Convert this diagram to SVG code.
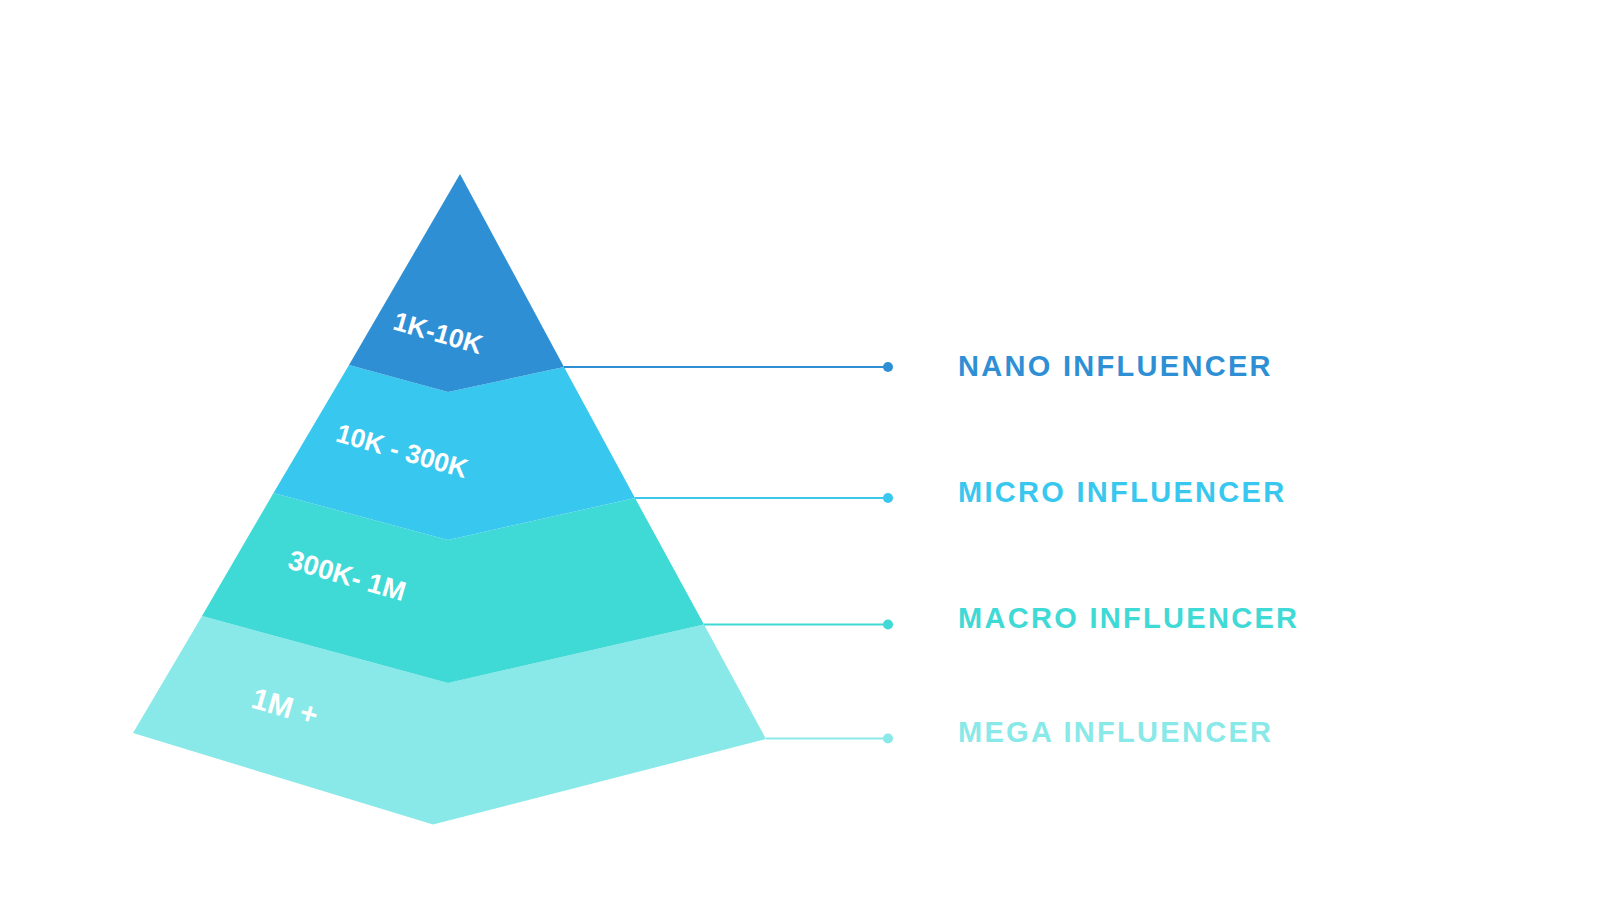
<svg xmlns="http://www.w3.org/2000/svg" width="1600" height="900" viewBox="0 0 1600 900">
<style>
.lbl{font-family:"Liberation Sans",Arial,sans-serif;font-weight:bold;font-size:26.5px;fill:#ffffff;text-anchor:middle}
.name{font-family:"Liberation Sans",Arial,sans-serif;font-weight:bold;font-size:29px;letter-spacing:2.3px}
.conn{stroke-width:2;fill:none}
</style>
<rect width="1600" height="900" fill="#ffffff"/>
<g id="tier-mega">
<polygon points="202,616 448,683 704,624.5 766,739 433,824.5 133,733" fill="#89E9E8"/>
<text class="lbl" transform="translate(285,707) rotate(16)" y="10" style="font-size:30px">1M +</text>
</g>
<g id="tier-macro">
<polygon points="273.5,493 448,540 635,498 704,624.5 448,683 202,616" fill="#3FD9D6"/>
<text class="lbl" transform="translate(347,576) rotate(16)" y="9" style="font-size:27.5px">300K- 1M</text>
</g>
<g id="tier-micro">
<polygon points="349,365 448,392 564,367 635,498 448,540 273.5,493" fill="#38C7EE"/>
<text class="lbl" transform="translate(402,451) rotate(16)" y="9">10K - 300K</text>
</g>
<g id="tier-nano">
<polygon points="460,174 564,367 448,392 349,365" fill="#2E8FD5"/>
<text class="lbl" transform="translate(438,333) rotate(16)" y="9">1K-10K</text>
</g>
<g id="connectors">
<line class="conn" x1="564" y1="367" x2="888" y2="367" stroke="#2E8FD5"/>
<circle cx="888" cy="367" r="5" fill="#2E8FD5"/>
<line class="conn" x1="635" y1="498" x2="888" y2="498" stroke="#38C7EE"/>
<circle cx="888" cy="498" r="5" fill="#38C7EE"/>
<line class="conn" x1="704" y1="624.5" x2="888" y2="624.5" stroke="#3FD9D6"/>
<circle cx="888" cy="624.5" r="5" fill="#3FD9D6"/>
<line class="conn" x1="766" y1="738.5" x2="888" y2="738.5" stroke="#89E9E8"/>
<circle cx="888" cy="738.5" r="5" fill="#89E9E8"/>
</g>
<g id="label-nano"><text class="name" x="958" y="376" fill="#2E8FD5">NANO INFLUENCER</text></g>
<g id="label-micro"><text class="name" x="958" y="502" fill="#38C7EE">MICRO INFLUENCER</text></g>
<g id="label-macro"><text class="name" x="958" y="628" fill="#3FD9D6">MACRO INFLUENCER</text></g>
<g id="label-mega"><text class="name" x="958" y="742" fill="#89E9E8">MEGA INFLUENCER</text></g>
</svg>
